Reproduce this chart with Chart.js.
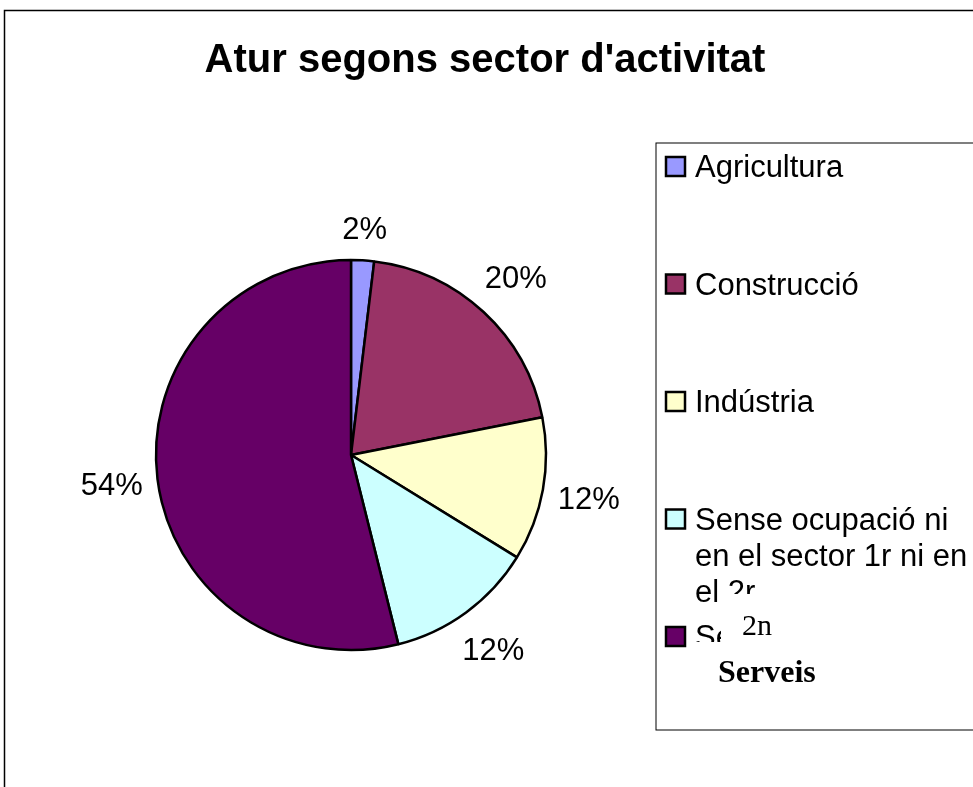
<!DOCTYPE html>
<html>
<head>
<meta charset="utf-8">
<title>Atur segons sector d'activitat</title>
<script src="https://cdn.jsdelivr.net/npm/chart.js@4.4.1/dist/chart.umd.min.js"></script>
<style>
  html, body { margin: 0; padding: 0; background: #fff; }
  canvas { display: block; }
</style>
</head>
<body>
<canvas id="pie" width="973" height="787"></canvas>
<script>
// data (percent of total)
const categories = ['Agricultura', 'Construcció', 'Indústria', ['Sense ocupació ni', 'en el sector 1r ni en', 'el 2r'], 'Serveis']
const values = [1.9, 20.0, 11.9, 12.3, 53.9]
const colors = ['#9999FF', '#993366', '#FFFFCC', '#CCFFFF', '#660066']
const chartTitle = "Atur segons sector d'activitat"
// stray text boxes sitting on top of the legend
const strayText = ['2n', 'Serveis']

const sans = 'Arial, "Liberation Sans", sans-serif'
const serif = '"Times New Roman", "Liberation Serif", serif'

const framePlugin = {
    id: 'frame',
    beforeDraw(chart) {
        const ctx = chart.ctx
        ctx.save()
        ctx.fillStyle = '#fff'
        ctx.fillRect(0, 0, chart.width, chart.height)
        ctx.strokeStyle = '#000'
        ctx.lineWidth = 1.5
        ctx.strokeRect(4.5, 10.5, 1200, 1200)
        ctx.fillStyle = '#000'
        ctx.font = 'bold 40px ' + sans
        ctx.textAlign = 'center'
        ctx.textBaseline = 'alphabetic'
        ctx.fillText(chartTitle, 485, 72)
        ctx.restore()
    }
}

const legendPlugin = {
    id: 'xlLegend',
    afterDraw(chart) {
        const ctx = chart.ctx
        ctx.save()
        ctx.strokeStyle = '#000'
        ctx.lineWidth = 1
        ctx.strokeRect(656, 143, 400, 587)
        ctx.font = '31px ' + sans
        ctx.textAlign = 'left'
        ctx.textBaseline = 'alphabetic'
        categories.forEach((cat, i) => {
            const base = 177 + i * 117.5
            ctx.fillStyle = colors[i]
            ctx.fillRect(666, base - 20, 19, 19)
            ctx.strokeStyle = '#000'
            ctx.lineWidth = 2.5
            ctx.strokeRect(666, base - 20, 19, 19)
            ctx.fillStyle = '#000'
            const lines = Array.isArray(cat) ? cat : [cat]
            lines.forEach((ln, j) => ctx.fillText(ln, 695, base + j * 36))
        })
        // overlapping boxes
        ctx.fillStyle = '#fff'
        ctx.fillRect(721, 594, 250, 48)
        ctx.fillRect(690, 642, 280, 60)
        ctx.fillStyle = '#000'
        ctx.font = '30px ' + serif
        ctx.fillText(strayText[0], 742, 635)
        ctx.font = 'bold 32px ' + serif
        ctx.fillText(strayText[1], 718, 682)
        ctx.restore()
    }
}

const pctPlugin = {
    id: 'pctLabels',
    afterDatasetsDraw(chart) {
        const ctx = chart.ctx
        const meta = chart.getDatasetMeta(0)
        const total = values.reduce((a, b) => a + b, 0)
        ctx.save()
        ctx.font = '31px ' + sans
        ctx.fillStyle = '#000'
        ctx.textAlign = 'center'
        ctx.textBaseline = 'alphabetic'
        meta.data.forEach((arc, i) => {
            const p = arc.getProps(['x', 'y', 'startAngle', 'endAngle', 'outerRadius'], true)
            const mid = (p.startAngle + p.endAngle) / 2
            const txt = Math.round(values[i] / total * 100) + '%'
            const w = ctx.measureText(txt).width
            const cx = Math.cos(mid), cy = Math.sin(mid)
            const ext = Math.abs(cx) * w / 2 + Math.abs(cy) * 18
            const d = p.outerRadius + 13 + ext
            ctx.fillText(txt, p.x + cx * d, p.y + cy * d + 11)
        })
        ctx.restore()
    }
}

new Chart(document.getElementById('pie').getContext('2d'), {
    type: 'pie',
    data: {
        labels: categories,
        datasets: [{
            data: values,
            backgroundColor: colors,
            borderColor: '#000',
            borderWidth: 2.5
        }]
    },
    options: {
        responsive: false,
        animation: false,
        devicePixelRatio: 1,
        radius: 195,
        layout: { padding: { left: 100, right: 371, top: 200, bottom: 77 } },
        plugins: {
            legend: { display: false },
            title: { display: false },
            tooltip: { enabled: false }
        }
    },
    plugins: [framePlugin, pctPlugin, legendPlugin]
})
</script>
</body>
</html>
